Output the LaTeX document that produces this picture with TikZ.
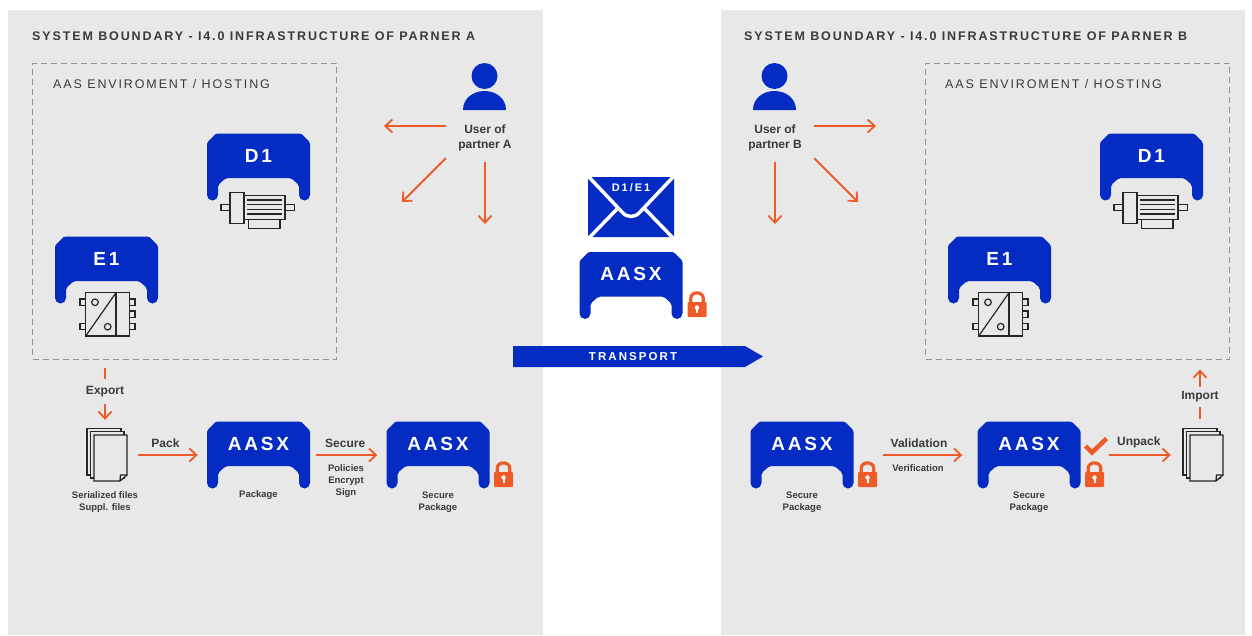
\documentclass[tikz,border=0pt]{standalone}
\usepackage{fontspec}
\setmainfont{Liberation Sans}
\newfontfamily\trackfont[LetterSpace=15]{Liberation Sans}
\newfontfamily\widefont[LetterSpace=18]{Liberation Sans}
\usetikzlibrary{arrows.meta}

\definecolor{panelgray}{HTML}{E8E8E8}
\definecolor{aasblue}{HTML}{042BC2}
\definecolor{flowred}{HTML}{EE5A28}
\definecolor{inkgray}{HTML}{3A3A3A}

\newcommand{\aasshape}[4]{
  \node[aasbox] (#1) at (#2,#3) {};
  \fill[aasblue,shift={(#2,#3)},rounded corners=1.5pt] (-42.5,-33.5) -- (42.5,-33.5) -- (51.5,-24.5)
    [rounded corners=5.5pt] -- (51.5,33.5) -- (40.5,33.5) [rounded corners=2pt] -- (40.5,18) -- (32.5,11) -- (-32.5,11) -- (-40.5,18)
    [rounded corners=5.5pt] -- (-40.5,33.5) -- (-51.5,33.5) [rounded corners=1.5pt] -- (-51.5,-24.5) -- cycle;
  \node[aastitle] at (#2,#3-11.5) {#4};
}
\newcommand{\lockicon}[2]{
  \begin{scope}[shift={(#1,#2)}]
    \draw[flowred,line width=3.2pt] (-6.3,-1) -- (-6.3,-6) .. controls (-6.3,-13.5) and (6.3,-13.5) .. (6.3,-6) -- (6.3,-1);
    \fill[flowred,rounded corners=1pt] (-9.5,-2.5) rectangle (9.5,12.5);
    \fill[white] (0,3) circle (2.2);
    \fill[white] (-1,3) rectangle (1,8);
  \end{scope}
}
\newcommand{\personicon}[1]{
  \begin{scope}[shift={(#1,0)}]
    \fill[aasblue] (0,76) circle (13);
    \fill[aasblue] (-21.5,110) .. controls (-21.5,98) and (-11,91) .. (0,91) .. controls (11,91) and (21.5,98) .. (21.5,110) -- cycle;
  \end{scope}
}
\newcommand{\fileicon}[1]{
  \begin{scope}[shift={(#1,0)}]
    \draw[pageline,fill=panelgray] (87,428.5) rectangle (121,475);
    \draw[pageline,fill=panelgray] (90.5,431.5) rectangle (124,478);
    \draw[pageline,fill=panelgray] (94,435) -- (127,435) -- (127,475) -- (120,481) -- (94,481) -- cycle;
    \draw[pageline] (127,475) -- (120.5,475) -- (120,481);
  \end{scope}
}
\newcommand{\motoricon}[1]{
  \begin{scope}[shift={(#1,0)}]
    \draw[iconline] (221,204.3) rectangle (230,210.3);
    \draw[iconline] (230,192.3) rectangle (244,223.3);
    \draw[iconline] (244,195.7) rectangle (285,219.3);
    \draw[iconline] (248.3,219.3) rectangle (280,228.3);
    \draw[iconline] (285,204.3) rectangle (294.3,210.3);
    \foreach \finy in {200,204.6,209.2,214}
      \draw[iconline] (247.3,\finy) -- (281.7,\finy);
  \end{scope}
}
\newcommand{\convicon}[1]{
  \begin{scope}[shift={(#1,0)}]
    \draw[iconline] (85.7,292.7) rectangle (129.3,336);
    \draw[iconline] (116,292.7) -- (116,336);
    \draw[iconline] (85.7,336) -- (116,292.7);
    \draw[iconline] (95,302.3) circle (3.3);
    \draw[iconline] (107.7,326.7) circle (3.3);
    \foreach \tx/\ty in {80/299,80/323.5,129.3/299,129.3/311,129.3/323.5}
      \draw[iconline] (\tx,\ty) rectangle (\tx+5.7,\ty+6.3);
  \end{scope}
}

\begin{document}
\begin{tikzpicture}[x=1pt,y=-1pt]
  \tikzset{aasbox/.style = {minimum width=103pt,minimum height=67pt,inner sep=0pt}}
  \tikzset{aastitle/.style = {text=white,font=\trackfont\bfseries\fontsize{19}{21}\selectfont,inner sep=0pt}}
  \tikzset{hostbox/.style = {draw=gray!85,dash pattern=on 6pt off 4pt,line width=1pt,minimum width=304pt,minimum height=296pt,inner sep=0pt}}
  \tikzset{flow/.style = {-{Straight Barb[length=7pt,width=13pt]},draw=flowred,line width=1.8pt}}
  \tikzset{flowlabel/.style = {text=inkgray,font=\bfseries\fontsize{12}{14}\selectfont,inner sep=0pt}}
  \tikzset{smalllabel/.style = {text=inkgray,font=\bfseries\fontsize{9.5}{12}\selectfont,align=center,inner sep=0pt}}
  \tikzset{headline/.style = {text=inkgray,anchor=west,inner sep=0pt}}
  \tikzset{iconline/.style = {draw=black!85,line width=1.2pt}}
  \tikzset{pageline/.style = {draw=black!85,line width=1.3pt}}
  \tikzset{userbox/.style = {text=inkgray,font=\bfseries\fontsize{12}{15}\selectfont,align=center,minimum width=78pt,minimum height=41pt,inner sep=0pt}}
  \tikzset{filebox/.style = {minimum width=48pt,minimum height=54pt,inner sep=0pt}}

  \useasboundingbox (0,0) rectangle (1252,635);
  \fill[panelgray] (8,10) rectangle (543,635);
  \fill[panelgray] (721,10) rectangle (1245,635);

  \node[headline,font=\trackfont\bfseries\fontsize{12.5}{14}\selectfont] (titleA) at (32,36) {SYSTEM BOUNDARY - I4.0 INFRASTRUCTURE OF PARNER A};
  \node[headline,font=\trackfont\bfseries\fontsize{12.5}{14}\selectfont] (titleB) at (744,36) {SYSTEM BOUNDARY - I4.0 INFRASTRUCTURE OF PARNER B};

  \node[hostbox] (hostA) at (184.5,211) {};
  \node[hostbox] (hostB) at (1077.5,211) {};
  \node[headline,font=\trackfont\fontsize{12.5}{14}\selectfont] (envA) at (53,84) {AAS ENVIROMENT / HOSTING};
  \node[headline,font=\trackfont\fontsize{12.5}{14}\selectfont] (envB) at (945,84) {AAS ENVIROMENT / HOSTING};

  \foreach \name/\x/\y/\txt in {devA/258.5/167/D1, eqA/106.5/270/E1, pkgA/258.5/455/AASX, secA/438/455/AASX,
      devB/1151.5/167/D1, eqB/999.5/270/E1, pkgB/802/455/AASX, secB/1029/455/AASX, pkgT/631/285.5/AASX}
    \aasshape{\name}{\x}{\y}{\txt};

  \motoricon{0}
  \motoricon{893}
  \convicon{0}
  \convicon{893}

  \foreach \x/\y in {503.5/474.5, 867.5/474.5, 1094.5/474.5, 697/304.5}
    \lockicon{\x}{\y};

  \personicon{484.5}
  \personicon{774.5}
  \node[userbox] (userA) at (485,137.5) {User of\\partner A};
  \node[userbox] (userB) at (775,137.5) {User of\\partner B};

  \coordinate (toA1) at (384,126);
  \coordinate (toA2) at (402,202);
  \coordinate (toA3) at (485,224);
  \coordinate (toB1) at (876,126);
  \coordinate (toB2) at (858,202);
  \coordinate (toB3) at (775,224);
  \draw[flow] (userA.west |- toA1) -- (toA1);
  \draw[flow] (userA.south west) -- (toA2);
  \draw[flow,shorten <=4pt] (userA.south) -- (toA3);
  \draw[flow] (userB.east |- toB1) -- (toB1);
  \draw[flow] (userB.south east) -- (toB2);
  \draw[flow,shorten <=4pt] (userB.south) -- (toB3);

  \fileicon{0}
  \fileicon{1096}
  \node[filebox] (filesA) at (105,455) {};
  \node[filebox] (filesB) at (1200,455) {};

  \draw[flow,shorten <=8pt,shorten >=8pt] (filesA |- hostA.south) -- node[flowlabel,pos=.47,fill=panelgray,minimum height=25pt] {Export} (filesA.north);
  \draw[flow,shorten <=9pt,shorten >=9pt] (filesA.east) -- node[flowlabel,above=6pt,xshift=-2.5pt] (packlabel) {Pack} (pkgA.west);
  \draw[flow,shorten <=6pt,shorten >=9pt] (pkgA.east) -- node[flowlabel,above=6pt,xshift=-3pt] (securelabel) {Secure} (secA.west);
  \draw[flow,shorten <=29.5pt,shorten >=15pt] (pkgB.east) -- node[flowlabel,above=6pt,xshift=3.5pt] (validlabel) {Validation} (secB.west);
  \draw[flow,shorten <=28.5pt,shorten >=5pt] (secB.east) -- node[flowlabel,above=6pt,xshift=10.5pt] (unpacklabel) {Unpack} (filesB.west);
  \draw[flow,shorten <=8.5pt,shorten >=10pt] (filesB.north) -- node[flowlabel,pos=.455,fill=panelgray,minimum height=20pt] {Import} (filesB |- hostB.south);

  \node[smalllabel] (policies) at (346,481) {Policies\\Encrypt\\Sign};
  \node[smalllabel] (verify) at (918,468.5) {Verification};
  \node[smalllabel] (capfiles) at (105,502) {Serialized files\\Suppl. files};
  \node[smalllabel] (cappkg) at (258.5,495.5) {Package};
  \node[smalllabel] (capsecA) at (438,502) {Secure\\Package};
  \node[smalllabel] (cappkgB) at (802,502) {Secure\\Package};
  \node[smalllabel] (capsecB) at (1029,502) {Secure\\Package};

  \draw[flowred,line width=4.5pt] (1085.5,446) -- (1092,452.5) -- (1106.5,438.5);

  \fill[aasblue,rounded corners=1pt] (588,177) rectangle (674,237);
  \draw[white,line width=3.5pt,line join=round] (587,175) -- (622,212) .. controls (627,218) and (635,218) .. (640,212) -- (675,175);
  \draw[white,line width=3.5pt] (587,240) -- (618,208);
  \draw[white,line width=3.5pt] (675,240) -- (644,208);
  \node[text=white,font=\widefont\bfseries\fontsize{11}{12}\selectfont,inner sep=0pt] (mailtag) at (631,187.5) {D1/E1};

  \fill[aasblue] (513,346) -- (745,346) -- (763,356.5) -- (745,367) -- (513,367) -- cycle;
  \node[text=white,font=\widefont\bfseries\fontsize{11.5}{13}\selectfont,inner sep=0pt] (transport) at (633,356.5) {TRANSPORT};
\end{tikzpicture}
\end{document}
